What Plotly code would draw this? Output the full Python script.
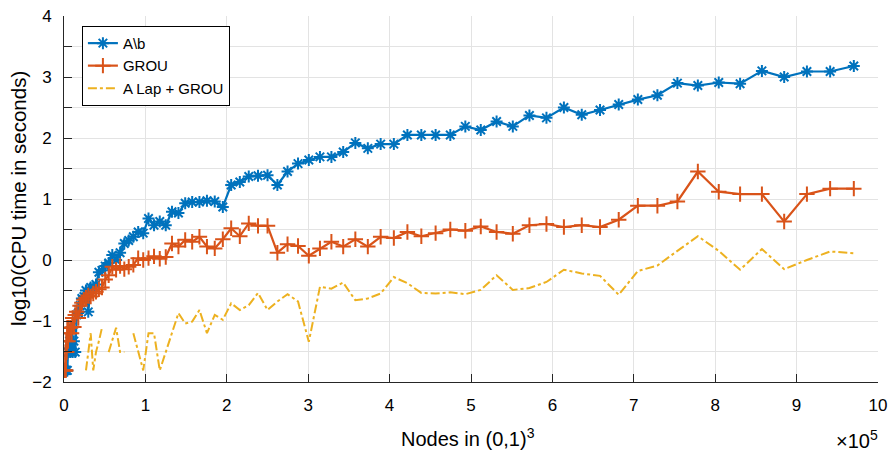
import plotly.graph_objects as go

# Grid sizes n; the problem has n^3 nodes in the unit cube
grid_n = list(range(10, 100))
nodes = [n ** 3 for n in grid_n]

# log10 of CPU time (seconds); None marks runs whose timer read zero
direct_solve = [
    -1.81, -1.81, -1.81, -1.81, -1.81, -1.81, -1.81, -1.51, -1.51, -1.33,
    -1.51, -1.10, -1.51, -1.33, -1.51, -0.90, -0.87, -0.75, -0.63, -0.60,
    -0.50, -0.85, -0.45, -0.45, -0.40, -0.20, -0.17, -0.10, -0.05, 0.08,
    0.00, 0.12, 0.27, 0.32, 0.38, 0.46, 0.44, 0.68, 0.57, 0.63,
    0.57, 0.79, 0.77, 0.93, 0.95, 0.95, 0.97, 0.96, 0.87, 1.23,
    1.28, 1.37, 1.38, 1.39, 1.23, 1.45, 1.58, 1.64, 1.69, 1.69,
    1.77, 1.92, 1.83, 1.90, 1.90, 2.05, 2.05, 2.05, 2.05, 2.19,
    2.13, 2.27, 2.19, 2.37, 2.33, 2.50, 2.38, 2.46, 2.55, 2.63,
    2.70, 2.90, 2.86, 2.91, 2.89, 3.10, 3.00, 3.09, 3.09, 3.18,
]

grou = [
    -1.81, -1.81, -1.51, -1.81, -1.33, -1.51, -1.11, -1.33, -1.11, -1.20,
    -1.11, -1.20, -0.95, -1.10, -0.90, -0.85, -0.95, -0.75, -0.70, -0.65,
    -0.62, -0.58, -0.60, -0.55, -0.52, -0.48, -0.45, -0.32, -0.25, -0.11,
    -0.16, -0.10, -0.15, -0.11, -0.08, 0.03, 0.00, 0.03, 0.06, 0.02,
    0.05, 0.27, 0.22, 0.33, 0.30, 0.38, 0.22, 0.19, 0.34, 0.52,
    0.39, 0.60, 0.56, 0.56, 0.12, 0.26, 0.23, 0.07, 0.19, 0.30,
    0.22, 0.34, 0.22, 0.38, 0.36, 0.46, 0.39, 0.44, 0.50, 0.48,
    0.55, 0.46, 0.43, 0.57, 0.59, 0.54, 0.57, 0.54, 0.66, 0.89,
    0.89, 0.96, 1.45, 1.12, 1.08, 1.08, 0.63, 1.08, 1.17, 1.17,
]

lap_grou = [
    None, None, None, None, None, None, None, None, None, None,
    None, None, None, None, None, None, None, None, None, None,
    -1.81, -1.51, -1.20, -1.81, -1.51, -1.33, -1.11, None, -1.51, -1.33,
    -1.11, -1.51, -1.51, None, -1.20, -1.51, -1.81, -1.20, -1.20, -1.81,
    -1.51, -1.20, -0.87, -1.04, -1.01, -0.82, -1.20, -0.90, -0.98, -0.71,
    -0.82, -0.74, -0.54, -0.82, -0.68, -0.56, -0.68, -1.34, -0.44, -0.47,
    -0.37, -0.66, -0.63, -0.55, -0.28, -0.38, -0.54, -0.55, -0.53, -0.56,
    -0.49, -0.25, -0.49, -0.46, -0.36, -0.16, -0.22, -0.26, -0.57, -0.18,
    -0.09, 0.15, 0.39, 0.15, -0.16, 0.18, -0.15, 0.00, 0.14, 0.11,
]

x_ticks = [k * 100000 for k in range(11)]
x_tick_text = [str(k) for k in range(11)]
y_ticks = list(range(-2, 5))

FONT = "Liberation Sans, Arial, Helvetica, sans-serif"
AXIS_COLOR = "#262626"
GRID_COLOR = "#e3e3e3"

fig = go.Figure()
fig.add_trace(go.Scatter(
    x=nodes, y=direct_solve, name="A\\b", mode="lines+markers",
    line=dict(color="#0072BD", width=2.2),
    marker=dict(symbol="asterisk-open", size=10, color="#0072BD",
                line=dict(color="#0072BD", width=2)),
))
fig.add_trace(go.Scatter(
    x=nodes, y=grou, name="GROU", mode="lines+markers",
    line=dict(color="#D95319", width=2.2),
    marker=dict(symbol="cross-thin-open", size=11, color="#D95319",
                line=dict(color="#D95319", width=2)),
))
fig.add_trace(go.Scatter(
    x=nodes, y=lap_grou, name="A Lap + GROU", mode="lines",
    line=dict(color="#EDB120", width=2, dash="dashdot"),
    connectgaps=False,
))

fig.update_layout(
    width=893, height=452,
    margin=dict(l=64, r=15, t=16, b=70),
    paper_bgcolor="white", plot_bgcolor="white",
    font=dict(family=FONT, size=17, color="black"),
    showlegend=True,
    legend=dict(
        x=0.022, y=0.973, xanchor="left", yanchor="top",
        bgcolor="white", bordercolor="black", borderwidth=1,
        font=dict(family=FONT, size=15, color="black"),
        tracegroupgap=0, itemwidth=30,
    ),
    annotations=[
        dict(text="Nodes in (0,1)<sup>3</sup>", xref="paper", yref="paper",
             x=0.496, y=-0.153, xanchor="center", yanchor="middle",
             showarrow=False, font=dict(family=FONT, size=20, color="black")),
        dict(text="log10(CPU time in seconds)", xref="paper", yref="paper",
             x=-0.0565, y=0.5, xanchor="center", yanchor="middle", textangle=-90,
             showarrow=False, font=dict(family=FONT, size=20.5, color="black")),
        dict(text="\u00d710<sup>5</sup>", xref="paper", yref="paper",
             x=1.003, y=-0.158, xanchor="right", yanchor="middle",
             showarrow=False, font=dict(family=FONT, size=20, color="black")),
    ],
)

fig.update_xaxes(
    range=[0, 1000000], tickmode="array", tickvals=x_ticks, ticktext=x_tick_text,
    showline=True, linecolor=AXIS_COLOR, linewidth=1, mirror=False,
    ticks="inside", ticklen=8, tickcolor=AXIS_COLOR, tickwidth=1,
    showgrid=True, gridcolor=GRID_COLOR, gridwidth=1, zeroline=False,
    ticklabelstandoff=8, automargin=False,
)
fig.update_yaxes(
    range=[-2, 4], tickmode="array", tickvals=y_ticks,
    showline=True, linecolor=AXIS_COLOR, linewidth=1, mirror=False,
    ticks="inside", ticklen=8, tickcolor=AXIS_COLOR, tickwidth=1,
    showgrid=True, gridcolor=GRID_COLOR, gridwidth=1, zeroline=False,
    minor=dict(dtick=0.5, tick0=-2, ticks="inside", ticklen=8,
               tickcolor=AXIS_COLOR, tickwidth=1,
               showgrid=True, gridcolor=GRID_COLOR, gridwidth=1),
    ticklabelstandoff=8, automargin=False,
)

fig.write_html("out.html")
